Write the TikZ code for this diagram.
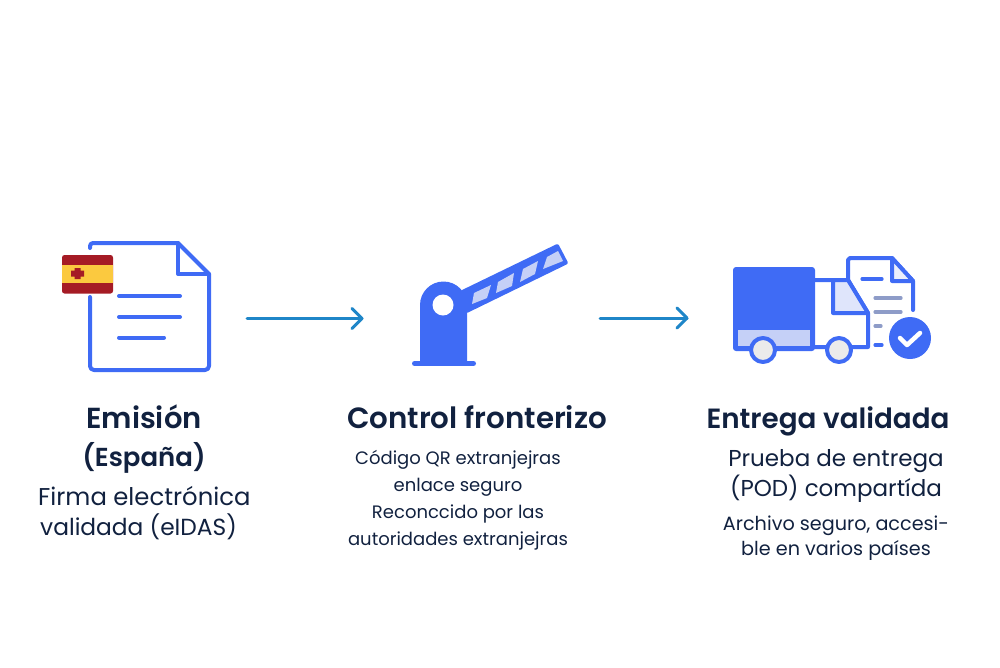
\documentclass[tikz,border=0pt]{standalone}
\usepackage{fontspec}
\setmainfont{Poppins}
\newfontfamily\headfont{Poppins}[UprightFont=* SemiBold]
\definecolor{iconblue}{HTML}{3F6BF5}
\definecolor{barlight}{HTML}{C5D0F7}
\definecolor{arrowblue}{HTML}{1F86C8}
\definecolor{inktext}{HTML}{11213F}
\definecolor{flagred}{HTML}{A51B25}
\definecolor{flagyellow}{HTML}{FBC93F}
\definecolor{docgray}{HTML}{8E9CC8}
\tikzset{
 x=1pt,y=-1pt,
 iconline/.style={draw=iconblue,line width=4pt,line cap=round,line join=round},
 thinline/.style={line width=3.2pt,line cap=round},
 headlabel/.style={font=\headfont\fontsize{29}{38}\selectfont,text=inktext,align=center,inner sep=0pt},
 bodylabel/.style={font=\fontsize{23}{30}\selectfont,text=inktext,align=center,inner sep=0pt},
 smalllabel/.style={font=\fontsize{18}{27}\selectfont,text=inktext,align=center,inner sep=0pt},
 flow/.style={draw=arrowblue,line width=3pt,line cap=round,line join=round},
}
\begin{document}
\begin{tikzpicture}
\useasboundingbox (0,0) rectangle (1000,667);
% document icon
\draw[iconline] (90,248) -- (90,246) arc[start angle=180,end angle=270,radius=3] -- (178,243) -- (209,274) -- (209,366) arc[start angle=0,end angle=90,radius=4] -- (94,370) arc[start angle=90,end angle=180,radius=4] -- (90,297);
\draw[iconline] (178,243) -- (178,274) -- (209,274);
\draw[iconline] (119,296) -- (180,296);
\draw[iconline] (119,317) -- (180,317);
\draw[iconline] (119,337.5) -- (164,337.5);
% flag
\fill[flagred,rounded corners=2.5pt] (62,255) rectangle (113,293.5);
\fill[flagyellow] (62,265) rectangle (113,283);
\fill[flagred] (71,270.5) rectangle (84,276.5) (74.5,268) rectangle (80.5,279);
% arrows
\coordinate (a1s) at (247,318.5); \coordinate (a1e) at (362,318.5);
\coordinate (a2s) at (600,318); \coordinate (a2e) at (687,318);
\draw[flow] (a1s) -- (a1e);
\draw[flow] (352,308.5) -- (a1e) -- (352,328.5);
\draw[flow] (a2s) -- (a2e);
\draw[flow] (677,308) -- (a2e) -- (677,328);
% barrier
\fill[iconblue] (420,363) -- (420,305) arc[start angle=180,end angle=360,radius=23.5] -- (467,363) -- cycle;
\draw[iconblue,line width=5pt,line cap=round] (414.5,363.5) -- (473.5,363.5);
\fill[iconblue,rounded corners=2pt] (460,291) -- (558,243.5) -- (568.5,263.5) -- (466,313.5) -- cycle;
\fill[white] (443,305) circle[radius=10.5];
\fill[barlight] (474,293) -- (491,285) -- (487,298) -- (472,304) -- cycle;
\fill[barlight] (498,282) -- (514,273) -- (512,286) -- (496,293) -- cycle;
\fill[barlight] (523,269) -- (538,261) -- (535,274) -- (520,282) -- cycle;
\fill[barlight] (547,257) -- (558,251) -- (563,261) -- (543,269) -- cycle;
% truck
\fill[iconblue,rounded corners=3pt] (733,267) rectangle (815,351);
\fill[barlight] (738,330) rectangle (810,346);
\draw[iconline] (815,280) -- (848,280) -- (868,313) -- (868,347) -- (815,347);
\draw[iconline,fill=barlight!55] (833,280) -- (848,280) -- (868,313) -- (833,313) -- cycle;
% shipping note
\draw[iconline] (848,280) -- (848,260) -- (850,258) -- (892,258) -- (913,281) -- (913,310);
\draw[iconline,fill=barlight!35] (892,258) -- (892,281) -- (913,281) -- cycle;
\draw[thinline,draw=iconblue] (862,279) -- (882,279);
\draw[thinline,draw=docgray] (875,298) -- (901,298);
\draw[thinline,draw=docgray] (875,312) -- (901,312);
\draw[thinline,draw=docgray] (875,326) -- (881,326);
\draw[thinline,draw=iconblue] (875,345) -- (882,345);
\draw[iconline,fill=black!8] (763,350) circle[radius=12];
\draw[iconline,fill=black!8] (839,350) circle[radius=12];
\fill[iconblue] (910,338) circle[radius=21];
\draw[white,line width=4.5pt,line cap=round,line join=round] (900,338) -- (907,345) -- (920,333);
% texts
\node[headlabel] (h1) at (144,439) {Emisión\\{\fontsize{26}{38}\selectfont (España)}};
\node[bodylabel,font=\fontsize{24.3}{30}\selectfont,align=left,anchor=west] (b1) at (38,513) {Firma electrónica\\\hspace*{2pt}{\fontsize{23.3}{30}\selectfont validada (eIDAS)}};
\node[headlabel,font=\headfont\fontsize{29.3}{38}\selectfont,anchor=base] (h2) at (477,428) {Control fronterizo};
\node[smalllabel] (b2) at (458,500) {Código QR extranjejras\\enlace seguro\\Reconccido por las\\autoridades extranjejras};
\node[headlabel,font=\headfont\fontsize{27.8}{38}\selectfont,anchor=base] (h3) at (828,428) {Entrega validada};
\node[bodylabel] (b3) at (836,476) {Prueba de entrega\\(POD) compartída};
\node[smalllabel,font=\fontsize{19.2}{25}\selectfont] (b4) at (836,538) {Archivo seguro, accesi-\\ble en varios países};
\end{tikzpicture}
\end{document}
